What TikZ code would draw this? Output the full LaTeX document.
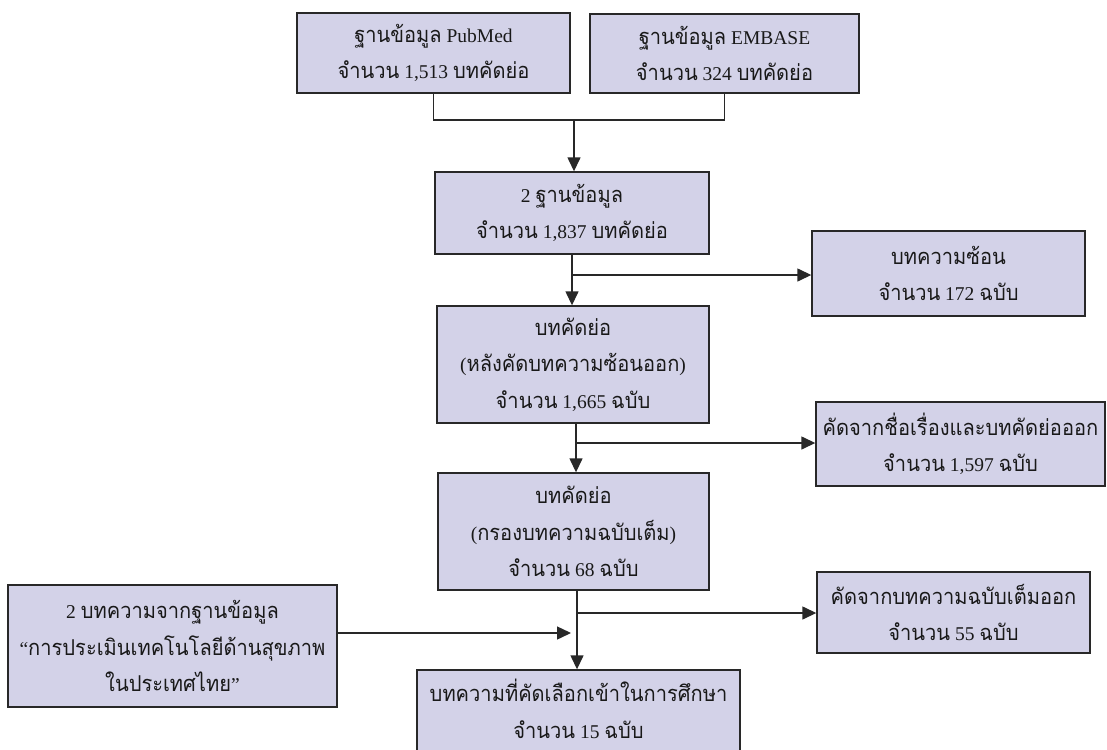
\documentclass[tikz,border=0pt]{standalone}
\usepackage{fontspec}
\setmainfont{Liberation Serif}
\newfontfamily\thai[Script=Thai,FakeStretch=0.92,Scale=1.12]{Loma}
\usetikzlibrary{arrows.meta}
\definecolor{boxfill}{RGB}{211,210,232}
\definecolor{boxline}{RGB}{40,40,40}
\tikzset{
  box/.style={draw=boxline, line width=1.4pt, fill=boxfill, align=center, inner sep=0pt,
    font=\fontsize{19.5}{36.5}\selectfont, text=black!90},
  conn/.style={draw=boxline, line width=1.4pt},
  arr/.style={conn, -{Triangle[length=14pt,width=13pt]}}
}
\begin{document}
\begin{tikzpicture}[x=1pt,y=-1pt]
\clip (0,0) rectangle (1107,749);
\fill[white] (0,0) rectangle (1107,749);
% boxes
\node[box, minimum width=273, minimum height=80] (pub) at (433.5,53) {{\thai ฐานข้อมูล} PubMed\\{\thai จำนวน} 1,513 {\thai บทคัดย่อ}};
\node[box, minimum width=269, minimum height=79] (emb) at (724.5,53.5) {{\thai ฐานข้อมูล} EMBASE\\{\thai จำนวน} 324 {\thai บทคัดย่อ}};
\node[box, minimum width=274, minimum height=82] (b2) at (572,213) {2 {\thai ฐานข้อมูล}\\{\thai จำนวน} 1,837 {\thai บทคัดย่อ}};
\node[box, minimum width=273, minimum height=85] (dup) at (948.5,273.5) {{\thai บทความซ้อน}\\{\thai จำนวน} 172 {\thai ฉบับ}};
\node[box, minimum width=272, minimum height=117] (b3) at (573,364.5) {{\thai บทคัดย่อ}\\({\thai หลังคัดบทความซ้อนออก})\\{\thai จำนวน} 1,665 {\thai ฉบับ}};
\node[box, minimum width=289, minimum height=84] (ex1) at (960.5,444) {{\thai คัดจากชื่อเรื่องและบทคัดย่อออก}\\{\thai จำนวน} 1,597 {\thai ฉบับ}};
\node[box, minimum width=271, minimum height=117] (b4) at (573.5,531.5) {{\thai บทคัดย่อ}\\({\thai กรองบทความฉบับเต็ม})\\{\thai จำนวน} 68 {\thai ฉบับ}};
\node[box, minimum width=273, minimum height=81] (ex2) at (953.5,612.5) {{\thai คัดจากบทความฉบับเต็มออก}\\{\thai จำนวน} 55 {\thai ฉบับ}};
\node[box, minimum width=329, minimum height=122] (hta) at (172.5,646) {2 {\thai บทความจากฐานข้อมูล}\\“{\thai การประเมินเทคโนโลยีด้านสุขภาพ}\\{\thai ในประเทศไทย}”};
% final box runs off the bottom edge
\filldraw[fill=boxfill, draw=boxline, line width=1.4pt] (417,670) rectangle (740,770);
\node[box, draw=none, fill=none, minimum width=323, minimum height=78] (fin) at (578.5,709) {{\thai บทความที่คัดเลือกเข้าในการศึกษา}\\{\thai จำนวน} 15 {\thai ฉบับ}};
% connectors
\coordinate (j) at (574,120);
\draw[conn] (pub.south) |- (j) -| (emb.south);
\draw[arr] (j) -- (j |- b2.north);
\coordinate (k1) at (573,275);
\draw[arr] (b2.south) -- (b2.south |- b3.north);
\draw[arr] (k1) -- (dup.west |- k1);
\coordinate (k2) at (576,443);
\draw[arr] (k2 |- b3.south) -- (k2 |- b4.north);
\draw[arr] (k2) -- (ex1.west |- k2);
\coordinate (k3) at (577,613);
\draw[arr] (k3 |- b4.south) -- (k3 |- fin.north);
\draw[arr] (k3) -- (ex2.west |- k3);
\coordinate (la) at (571,633);
\draw[arr] (hta.east |- la) -- (la);
\end{tikzpicture}
\end{document}
